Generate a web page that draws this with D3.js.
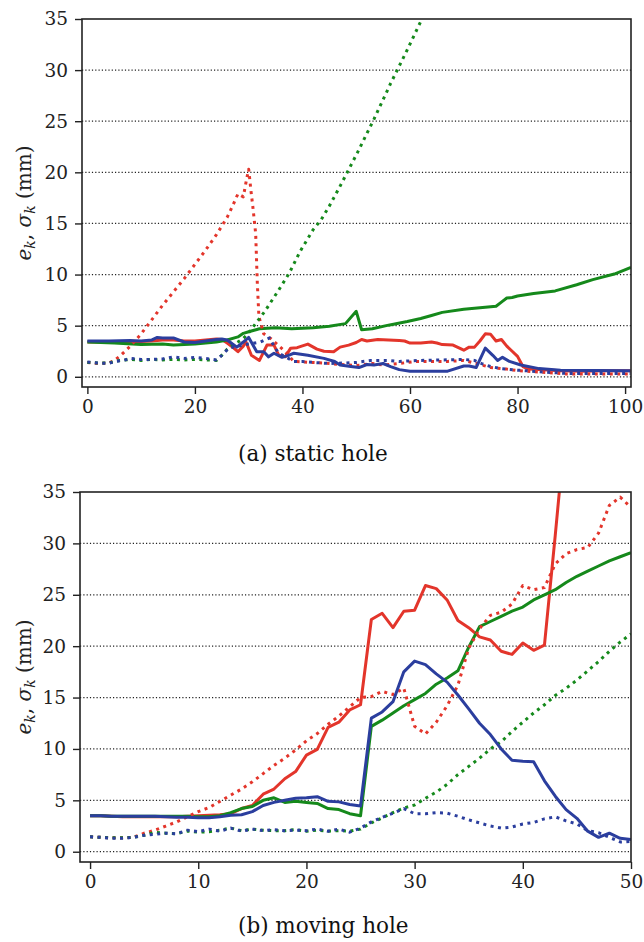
<!DOCTYPE html>
<html><head><meta charset="utf-8">
<script src="https://cdn.jsdelivr.net/npm/d3@7"></script>
<style>body{margin:0;background:#fff} svg{display:block}</style>
</head><body>
<script>
// ---------- data ----------
const staticTicksX = [0, 20, 40, 60, 80, 100];
const movingTicksX = [0, 10, 20, 30, 40, 50];
const ticksY = [0, 5, 10, 15, 20, 25, 30, 35];
const gridY = [0, 5, 10, 15, 20, 25, 30];

// (a) static hole : [frame, value]
const staticRedErr = [[0,3.4],[4,3.4],[8,3.4],[10,3.45],[12,3.5],[14,3.6],[16,3.6],[18,3.5],[20,3.5],[22,3.6],[24,3.7],[25,3.65],[26,3.3],[27,2.9],[28,2.45],[29,3.0],[29.5,3.4],[30.5,2.1],[32,1.6],[33.4,3.1],[34.7,3.1],[35.6,2.1],[36.8,1.95],[37.8,2.8],[39,2.85],[41,3.2],[42.7,2.7],[44,2.5],[45.8,2.45],[47,2.9],[48.6,3.1],[50,3.35],[51,3.65],[52,3.5],[54,3.65],[56,3.6],[58,3.55],[59,3.5],[60,3.3],[62,3.3],[64,3.4],[65,3.3],[66,3.15],[68,3.1],[70,2.6],[71,2.9],[72,2.9],[73,3.5],[74,4.2],[75,4.15],[76,3.5],[77,3.65],[78,3.0],[79,2.5],[80,2.0],[81,1.0],[82,0.75],[84,0.7],[88,0.6],[92,0.55],[96,0.6],[101,0.6]];
const staticRedSig = [[0,1.4],[2,1.3],[4,1.35],[5,1.6],[6,2.0],[8,3.0],[10,4.2],[12,5.6],[14,7.0],[16,8.3],[18,9.6],[20,11.0],[22,12.4],[24,13.9],[26,15.6],[27,16.7],[28,17.9],[29,17.6],[29.6,19.3],[30,20.3],[30.4,18.3],[30.8,16.5],[31.3,14.0],[31.6,9.2],[31.9,5.9],[32.8,4.2],[34.2,3.7],[36.5,2.6],[38.4,1.5],[40,1.45],[42,1.4],[44,1.35],[47,1.2],[50,1.1],[53,1.3],[55,1.15],[58,1.3],[61,1.5],[64,1.5],[67,1.5],[70,1.6],[72,1.35],[75,0.9],[78,0.75],[80,0.6],[83,0.5],[89,0.28],[101,0.28]];
const staticGreenErr = [[0,3.4],[5,3.3],[10,3.15],[14,3.2],[16,3.1],[20,3.2],[24,3.4],[26,3.6],[28,3.9],[29,4.25],[30,4.4],[31,4.55],[32,4.7],[35,4.8],[38,4.7],[42,4.8],[45,4.95],[48,5.2],[50,6.4],[51,4.6],[53,4.7],[56,5.05],[59.5,5.4],[62,5.7],[64,6.0],[66,6.3],[70,6.6],[72,6.7],[74,6.8],[76,6.9],[77,7.3],[78,7.7],[79,7.75],[80,7.9],[83,8.15],[87,8.4],[91,9.0],[94,9.5],[98,10.05],[101.1,10.7]];
const staticGreenSig = [[0,1.4],[2,1.35],[4,1.35],[6,1.6],[8,1.7],[10,1.6],[12,1.7],[14,1.65],[16,1.7],[18,1.65],[20,1.7],[22,1.65],[24,1.6],[25,2.1],[26,2.7],[27,3.1],[28,3.4],[29,3.75],[30,4.3],[31,5.0],[33,6.4],[35.6,8.5],[37.5,10.1],[39.6,12.3],[42,14.4],[43.4,15.3],[45,16.7],[47.1,18.75],[50.2,21.9],[53.3,25.2],[56.4,28.7],[59.5,32.0],[62.3,35.1],[64,37.0]];
const staticBlueErr = [[0,3.5],[4,3.5],[8,3.55],[10,3.5],[12,3.6],[13,3.85],[14,3.8],[16,3.8],[17,3.6],[18,3.4],[20,3.35],[22,3.5],[24,3.65],[25,3.7],[26,3.6],[27,3.2],[27.8,2.9],[29,3.4],[30,3.85],[31.5,2.45],[32.8,2.45],[33.7,1.95],[34.7,2.3],[36.2,1.9],[37.4,2.1],[38.4,2.3],[41,2.1],[44,1.8],[46,1.5],[47,1.15],[49,1.0],[50.5,0.9],[52,1.2],[53.3,1.15],[55,1.3],[56.4,1.0],[58,0.7],[60,0.55],[64,0.55],[67,0.55],[70,1.05],[71,1.05],[72.3,0.9],[74,2.8],[75.4,2.1],[76.3,1.6],[77.2,1.9],[78.5,1.5],[80.6,1.15],[84,0.8],[88,0.65],[101,0.6]];
const staticBlueSig = [[0,1.45],[2,1.35],[4,1.3],[5,1.5],[6.7,1.6],[8,1.8],[10,1.7],[12,1.7],[14,1.75],[16,1.95],[18,1.8],[20,1.9],[22,1.8],[24,1.65],[25,2.1],[26.3,2.8],[28,3.0],[30,3.2],[32.2,3.4],[33.9,3.8],[34.8,2.9],[35.6,2.3],[38.4,1.5],[40,1.5],[42,1.4],[45,1.3],[48,1.35],[50,1.4],[52.7,1.6],[56,1.6],[58,1.5],[62,1.6],[66,1.65],[70,1.7],[72,1.6],[73.5,1.25],[75,1.0],[77,0.8],[80,0.65],[84,0.5],[89,0.33],[101,0.33]];

// (b) moving hole : one value per frame
const movingX = [0,1,2,3,4,5,6,7,8,9,10,11,12,13,14,15,16,17,18,19,20,21,22,23,24,25,26,27,28,29,30,31,32,33,34,35,36,37,38,39,40,41,42,43,44,45,46,47,48,49,50];
const movingRedErr = [3.5,3.5,3.45,3.4,3.4,3.4,3.4,3.4,3.4,3.45,3.5,3.55,3.6,3.7,4.2,4.5,5.6,6.1,7.1,7.8,9.4,9.96,12.1,12.6,13.8,14.3,22.6,23.2,21.8,23.4,23.5,25.9,25.6,24.5,22.5,21.8,20.9,20.6,19.5,19.2,20.3,19.6,20.1,30.8,42,null,null,null,null,null,null];
const movingRedSig = [1.45,1.4,1.35,1.35,1.4,1.8,2.1,2.5,2.9,3.4,3.9,4.3,4.9,5.5,6.1,6.8,7.6,8.4,9.1,9.9,10.8,11.5,12.4,13.2,14.1,15.0,15.1,15.6,15.3,15.9,12.2,11.45,12.6,14.2,16.2,19.8,21.7,23.0,23.3,24.1,25.9,25.5,25.7,28.0,29.0,29.4,29.6,31.0,33.7,34.5,33.5];
const movingGreenErr = [3.5,3.5,3.45,3.45,3.45,3.45,3.45,3.45,3.45,3.45,3.4,3.4,3.5,3.8,4.2,4.4,5.0,5.25,4.8,4.9,4.8,4.7,4.2,4.1,3.7,3.5,12.2,12.8,13.5,14.2,14.8,15.4,16.3,16.9,17.6,19.9,21.9,22.4,22.9,23.4,23.8,24.5,25.0,25.5,26.2,26.8,27.3,27.8,28.3,28.7,29.1];
const movingGreenSig = [1.45,1.4,1.35,1.35,1.4,1.6,1.9,1.8,1.75,2.0,1.9,1.95,2.1,2.3,2.05,2.2,2.1,2.05,2.05,2.15,2.0,2.1,2.0,2.05,2.0,2.2,2.8,3.3,3.8,4.25,4.55,5.2,5.8,6.55,7.5,8.3,9.1,10.0,10.7,11.7,12.6,13.5,14.3,15.2,15.9,16.7,17.6,18.5,19.5,20.4,21.2];
const movingBlueErr = [3.5,3.5,3.45,3.45,3.45,3.45,3.45,3.4,3.35,3.35,3.3,3.3,3.4,3.55,3.6,3.9,4.5,4.8,5.0,5.2,5.25,5.35,4.9,4.85,4.6,4.45,13.0,13.6,14.6,17.5,18.55,18.2,17.3,16.5,15.25,13.9,12.5,11.4,10.0,8.9,8.8,8.75,6.9,5.4,4.1,3.25,2.0,1.4,1.8,1.3,1.2];
const movingBlueSig = [1.45,1.4,1.3,1.3,1.4,1.6,1.7,1.8,1.75,2.1,1.95,2.2,2.0,2.3,2.0,2.2,2.05,2.15,2.05,2.1,2.05,2.2,2.0,2.2,1.9,2.3,2.9,3.35,3.75,4.2,3.7,3.7,3.8,3.75,3.45,3.1,2.8,2.5,2.3,2.4,2.7,2.85,3.2,3.4,3.0,2.7,2.05,1.85,1.4,0.95,1.0];

const captions = ["(a) static hole", "(b) moving hole"];

// ---------- drawing ----------
const RED = "#e3352b", GREEN = "#15891b", BLUE = "#2b3e9e";
const W = 644, H = 942;
const FONT = "DejaVu Serif";
const svg = d3.select("body").append("svg").attr("width", W).attr("height", H)
  .attr("font-family", FONT);

const zipPairs = (xs, ys) => xs.map((x, i) => [x, ys[i]]);

const panels = [
  { id: "a", left: 82, right: 631, top: 19, bottom: 387, xDomain: [-1, 101.1], xTicks: staticTicksX,
    caption: captions[0], capY: 461,
    series: [
      {data: staticRedErr, color: RED, dotted: false},
      {data: staticGreenErr, color: GREEN, dotted: false},
      {data: staticRedSig, color: RED, dotted: true},
      {data: staticGreenSig, color: GREEN, dotted: true},
      {data: staticBlueSig, color: BLUE, dotted: true},
      {data: staticBlueErr, color: BLUE, dotted: false}
    ]},
  { id: "b", left: 80, right: 631, top: 492, bottom: 862, xDomain: [-0.93, 50], xTicks: movingTicksX,
    caption: captions[1], capY: 933,
    series: [
      {data: zipPairs(movingX, movingRedErr), color: RED, dotted: false},
      {data: zipPairs(movingX, movingGreenErr), color: GREEN, dotted: false},
      {data: zipPairs(movingX, movingRedSig), color: RED, dotted: true},
      {data: zipPairs(movingX, movingGreenSig), color: GREEN, dotted: true},
      {data: zipPairs(movingX, movingBlueSig), color: BLUE, dotted: true},
      {data: zipPairs(movingX, movingBlueErr), color: BLUE, dotted: false}
    ]}
];

panels.forEach(p => {
  const x = d3.scaleLinear().domain(p.xDomain).range([p.left, p.right]);
  const y = d3.scaleLinear().domain([-1, 35]).range([p.bottom, p.top]);
  const g = svg.append("g");

  // grid
  g.append("g").selectAll("line").data(gridY).join("line")
    .attr("x1", p.left).attr("x2", p.right)
    .attr("y1", d => y(d)).attr("y2", d => y(d))
    .attr("stroke", "#222").attr("stroke-width", 1.2)
    .attr("stroke-dasharray", "1.2,2.1");

  // clip
  svg.append("clipPath").attr("id", "clip" + p.id).append("rect")
    .attr("x", p.left).attr("y", p.top).attr("width", p.right - p.left).attr("height", p.bottom - p.top);

  const line = d3.line().defined(d => d[1] !== null).x(d => x(d[0])).y(d => y(d[1]));
  const lg = g.append("g").attr("clip-path", `url(#clip${p.id})`);
  p.series.forEach(s => {
    lg.append("path").attr("d", line(s.data))
      .attr("fill", "none").attr("stroke", s.color)
      .attr("stroke-width", 3)
      .attr("stroke-linejoin", "round")
      .attr("stroke-dasharray", s.dotted ? "3,4.5" : null)
      .attr("stroke-linecap", "butt");
  });

  // axes
  const ax = g.append("g").attr("transform", `translate(0,${p.bottom})`)
    .call(d3.axisBottom(x).tickValues(p.xTicks).tickSize(7).tickPadding(6).tickFormat(d3.format("d")));
  const ay = g.append("g").attr("transform", `translate(${p.left},0)`)
    .call(d3.axisLeft(y).tickValues(ticksY).tickSize(7).tickPadding(7).tickFormat(d3.format("d")));
  [ax, ay].forEach(a => {
    a.attr("font-family", FONT).attr("font-size", 18.5);
    a.select(".domain").remove();
    a.selectAll(".tick line").attr("stroke", "#222").attr("stroke-width", 1.4);
    a.selectAll(".tick text").attr("fill", "#222");
  });

  // frame
  g.append("rect").attr("x", p.left).attr("y", p.top)
    .attr("width", p.right - p.left).attr("height", p.bottom - p.top)
    .attr("fill", "none").attr("stroke", "#222").attr("stroke-width", 1.6);

  // y label
  const yl = g.append("text")
    .attr("transform", `translate(31,${(p.top + p.bottom) / 2}) rotate(-90)`)
    .attr("text-anchor", "middle").attr("fill", "#222")
    .attr("font-family", FONT).attr("font-size", 20);
  yl.append("tspan").attr("font-style", "italic").text("e");
  yl.append("tspan").attr("font-style", "italic").attr("font-size", 14).attr("dy", 4).text("k");
  yl.append("tspan").attr("dy", -4).text(", ");
  yl.append("tspan").attr("font-style", "italic").text("σ");
  yl.append("tspan").attr("font-style", "italic").attr("font-size", 14).attr("dy", 4).text("k");
  yl.append("tspan").attr("dy", -4).text(" (mm)");

  // caption
  g.append("text").attr("x", 238).attr("y", p.capY).attr("fill", "#111")
    .attr("font-family", FONT).attr("font-size", 21.5)
    .text(p.caption);
});
</script>
</body></html>
